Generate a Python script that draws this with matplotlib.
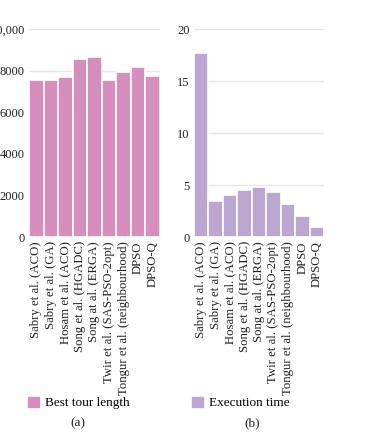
import matplotlib
matplotlib.use("Agg")
import matplotlib.pyplot as plt
from matplotlib.patches import Patch

categories = ["Sabry et al. (ACO)", "Sabry et al. (GA)", "Hosam et al. (ACO)",
              "Song et al. (HGADC)", "Song at al. (ERGA)", "Twir et al. (SAS-PSO-2opt)",
              "Tongur et al. (neighbourhood)", "DPSO", "DPSO-Q"]
best_tour = [7560, 7530, 7690, 8570, 8640, 7530, 7950, 8190, 7725]
exec_time = [17.7, 3.5, 4.0, 4.5, 4.8, 4.3, 3.2, 2.0, 1.0]
left_ticks = [0, 2000, 4000, 6000, 8000, 10000]
left_ticklabels = ["0", "2000", "4000", "6000", "8000", "10,000"]
right_ticks = [0, 5, 10, 15, 20]

plt.rcParams['font.family'] = ['Liberation Serif', 'DejaVu Serif']

W, H = 375, 437
fig = plt.figure(figsize=(W/100, H/100), dpi=100)

pink = "#d68fbd"
purple = "#baa6d0"
txt = "#222222"

def setup(ax, vals, color, ticks, ticklabels, ymax):
    x = range(len(vals))
    ax.bar(x, vals, width=1.0, color=color, edgecolor="white", linewidth=1.2, zorder=2)
    ax.set_xlim(-0.5, len(vals) - 0.5)
    ax.set_ylim(0, ymax)
    ax.set_yticks(ticks)
    ax.set_yticklabels(ticklabels, fontsize=9, color=txt)
    ax.set_xticks(list(x))
    ax.set_xticklabels(categories, rotation=90, fontsize=9.2, color=txt)
    ax.tick_params(axis="y", length=0, pad=3)
    ax.tick_params(axis="x", length=0, pad=3)
    for s in ax.spines.values():
        s.set_visible(False)
    ax.yaxis.grid(True, color="#e6e6e6", linewidth=1.0, zorder=0)
    ax.set_axisbelow(True)

ax1 = fig.add_axes([29/W, 1 - 237/H, (160-29)/W, (237-29)/H])
setup(ax1, best_tour, pink, left_ticks, left_ticklabels, 10000)
ax2 = fig.add_axes([194/W, 1 - 237/H, (324-194)/W, (237-29)/H])
setup(ax2, exec_time, purple, right_ticks, [str(t) for t in right_ticks], 20)

fig.legend(handles=[Patch(color=pink, label="Best tour length")],
           loc="center left", bbox_to_anchor=(25/W, 1 - 403/H), frameon=False,
           fontsize=9.5, handlelength=0.85, handleheight=0.85, handletextpad=0.5,
           borderpad=0.2, borderaxespad=0)
fig.legend(handles=[Patch(color=purple, label="Execution time")],
           loc="center left", bbox_to_anchor=(189/W, 1 - 403/H), frameon=False,
           fontsize=9.5, handlelength=0.85, handleheight=0.85, handletextpad=0.5,
           borderpad=0.2, borderaxespad=0)

fig.text(78/W, 1 - 423/H, "(a)", ha="center", va="center", fontsize=9.5, color=txt)
fig.text(252/W, 1 - 423/H, "(b)", ha="center", va="center", fontsize=9.5, color=txt)

fig.savefig("out.png", dpi=100)
